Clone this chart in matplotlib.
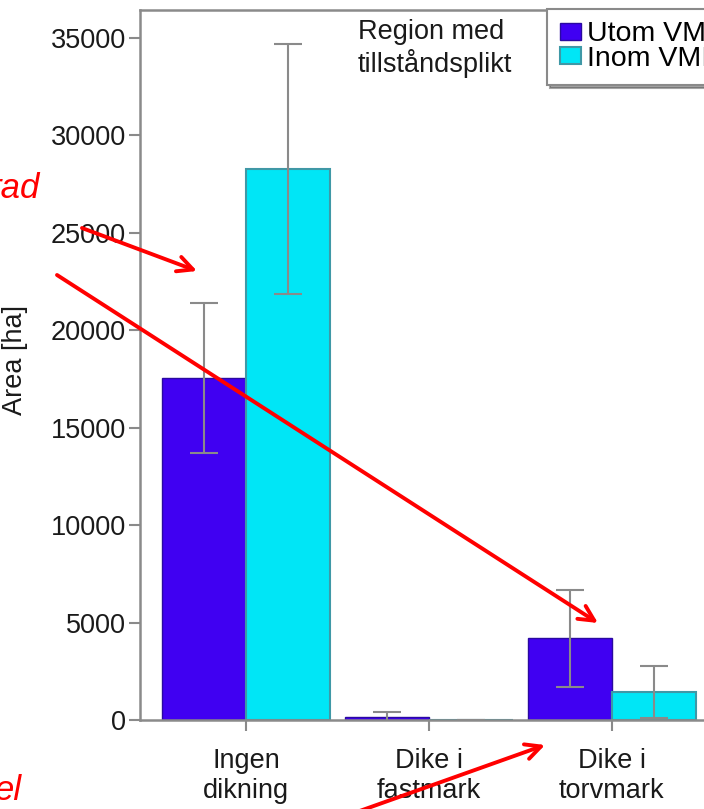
import matplotlib
matplotlib.use("Agg")
import matplotlib.pyplot as plt
import numpy as np

# values
categories = ["Ingen\ndikning", "Dike i\nfastmark", "Dike i\ntorvmark"]
series_names = ["Utom VMI", "Inom VMI"]
utom = [17550, 150, 4200]
utom_err = [3830, 250, 2490]
inom = [28270, 0, 1440]
inom_err = [6410, 0, 1330]
yticks = [0, 5000, 10000, 15000, 20000, 25000, 30000, 35000]

plt.rcParams['font.family'] = ['Liberation Sans', 'DejaVu Sans']

W, H = 704, 809
fig = plt.figure(figsize=(W / 100, H / 100), dpi=100)
# axes runs past the right edge, like the cropped original
ax = fig.add_axes([140 / W, 89 / H, 578 / W, 710 / H])

x = np.arange(len(categories))
w = 0.46
grey = "#8a8a8a"

ax.bar(x, utom, width=-w, align='edge', color="#4000f2",
       edgecolor="#2a0aa0", linewidth=1, label=series_names[0])
ax.bar(x, inom, width=w, align='edge', color="#00e6f6",
       edgecolor="#3f98a6", linewidth=1.5, label=series_names[1])
ax.errorbar(x - w / 2, utom, yerr=utom_err, fmt='none', ecolor=grey,
            elinewidth=1.5, capsize=10, capthick=1.5)
ax.errorbar(x + w / 2, inom, yerr=inom_err, fmt='none', ecolor=grey,
            elinewidth=1.5, capsize=10, capthick=1.5)

ax.set_xlim(-0.58, 2.58)
ax.set_ylim(0, 36430)
ax.set_yticks(yticks)
ax.set_yticklabels([str(v) for v in yticks])
ax.set_xticks(x)
ax.set_xticklabels(categories, linespacing=1.2)
ax.tick_params(axis='both', colors=grey, labelcolor="#1a1a1a",
               labelsize=19.5, length=8, width=1.5, direction='out')
ax.tick_params(axis='y', pad=2)
ax.tick_params(axis='x', pad=12)
for side in ['top', 'left', 'bottom', 'right']:
    ax.spines[side].set_color(grey)
    ax.spines[side].set_linewidth(1.8)

ax.set_ylabel("Area [ha]", fontsize=19.5, color="#1a1a1a")
ax.yaxis.set_label_coords((28 - 140) / 578, (720 - 360) / 710)

ax.text((358 - 140) / 578, 0.988, "Region med\ntillståndsplikt",
        transform=ax.transAxes, fontsize=19.5, va='top', ha='left',
        color="#1a1a1a", linespacing=1.2)

leg = ax.legend(loc='upper left', bbox_to_anchor=((547 - 140) / 578, 1.002),
                fontsize=20.5, frameon=True, fancybox=False, shadow=True,
                edgecolor=grey, handlelength=0.75, handleheight=0.55,
                handletextpad=0.2, labelspacing=-0.05, borderpad=0.45,
                borderaxespad=0)
leg.get_frame().set_linewidth(1.5)

# red annotations drawn over the chart
arrow = dict(arrowstyle='->,head_length=1.1,head_width=0.55',
             color='red', lw=2.8, shrinkA=0, shrinkB=0)
for start, end in [((82, 228), (197, 271)),
                   ((57, 275), (598, 623)),
                   ((340, 818), (545, 745))]:
    ax.annotate('', xy=(end[0], H - end[1]), xytext=(start[0], H - start[1]),
                xycoords='figure pixels', textcoords='figure pixels',
                arrowprops=arrow, annotation_clip=False)

fig.text(40 / W, 1 - 198 / H, "rad", color='red', fontsize=25,
         style='italic', ha='right', va='baseline')
fig.text(22 / W, 1 - 800 / H, "el", color='red', fontsize=25,
         style='italic', ha='right', va='baseline')

fig.savefig("out.png", dpi=100)
